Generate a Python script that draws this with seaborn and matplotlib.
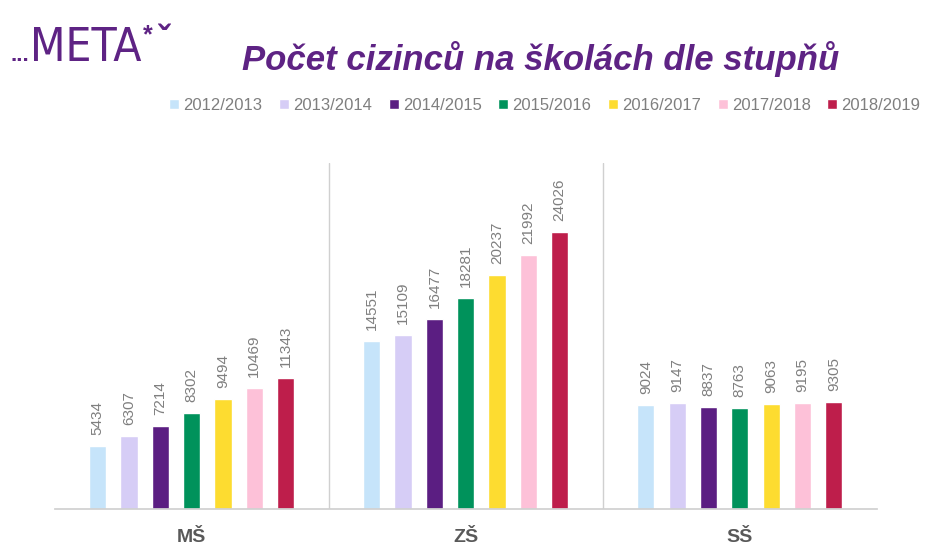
import matplotlib
matplotlib.use("Agg")
import matplotlib.pyplot as plt
import pandas as pd
import seaborn as sns

# data
stupne = ["MŠ", "ZŠ", "SŠ"]
roky = ["2012/2013", "2013/2014", "2014/2015", "2015/2016",
        "2016/2017", "2017/2018", "2018/2019"]
ms = [5434, 6307, 7214, 8302, 9494, 10469, 11343]
zs = [14551, 15109, 16477, 18281, 20237, 21992, 24026]
ss = [9024, 9147, 8837, 8763, 9063, 9195, 9305]

barvy = ["#C6E4FA", "#D6CDF6", "#5B1E82", "#00925B",
         "#FDDC30", "#FDC1D8", "#BE1E4B"]
fialova = "#5E2384"
seda = "#7F7F7F"

rows = []
for stupen, vals in zip(stupne, [ms, zs, ss]):
    for rok, v in zip(roky, vals):
        rows.append({"stupen": stupen, "rok": rok, "pocet": v})
df = pd.DataFrame(rows)

sns.set_theme(style="white")
plt.rcParams['font.family'] = ['Liberation Sans', 'DejaVu Sans']

fig = plt.figure(figsize=(9.25, 5.48), dpi=100)
ax = fig.add_axes([0.059, 0.071, 0.889, 0.632])

sns.barplot(data=df, x="stupen", y="pocet", hue="rok", hue_order=roky,
            palette=barvy, width=0.8, gap=0.45, saturation=1, ax=ax)

for cont in ax.containers:
    ax.bar_label(cont, fmt="%d", rotation=90, padding=8,
                 color=seda, fontsize=11)

ax.set_ylim(0, 30000)
ax.set_xlim(-0.5, 2.5)
ax.set_xlabel("")
ax.set_ylabel("")
ax.set_yticks([])
for s in ["top", "left", "right"]:
    ax.spines[s].set_visible(False)
ax.spines["bottom"].set_color("#D0D0D0")
for x in [0.5, 1.5]:
    ax.axvline(x, color="#D0D0D0", lw=1)
ax.tick_params(axis="x", length=0, pad=14)
for t in ax.get_xticklabels():
    t.set_fontsize(14)
    t.set_fontweight("bold")
    t.set_color("#595959")

sns.move_legend(ax, "center", bbox_to_anchor=(0.589, 0.808),
                bbox_transform=fig.transFigure, ncol=7, frameon=False,
                title=None, fontsize=12, handlelength=0.6, handleheight=0.6,
                handletextpad=0.25, columnspacing=1.0)
for t in ax.get_legend().get_texts():
    t.set_color(seda)

fig.text(0.584, 0.893, "Počet cizinců na školách dle stupňů", ha="center",
         va="center", fontsize=25, fontweight="bold", fontstyle="italic",
         color=fialova)

# logo
fig.text(0.011, 0.889, "...", ha="left", va="baseline", fontsize=16,
         fontweight="bold", color=fialova)
fig.text(0.032, 0.889, "META", ha="left", va="baseline", fontsize=33,
         color=fialova, family="DejaVu Sans", fontstretch="condensed")
fig.text(0.155, 0.935, "*", ha="left", va="center", fontsize=18,
         fontweight="bold", color=fialova)
fig.text(0.171, 0.925, "ˇ", ha="left", va="center", fontsize=26,
         fontweight="bold", color=fialova)

fig.savefig("out.png", dpi=100)
